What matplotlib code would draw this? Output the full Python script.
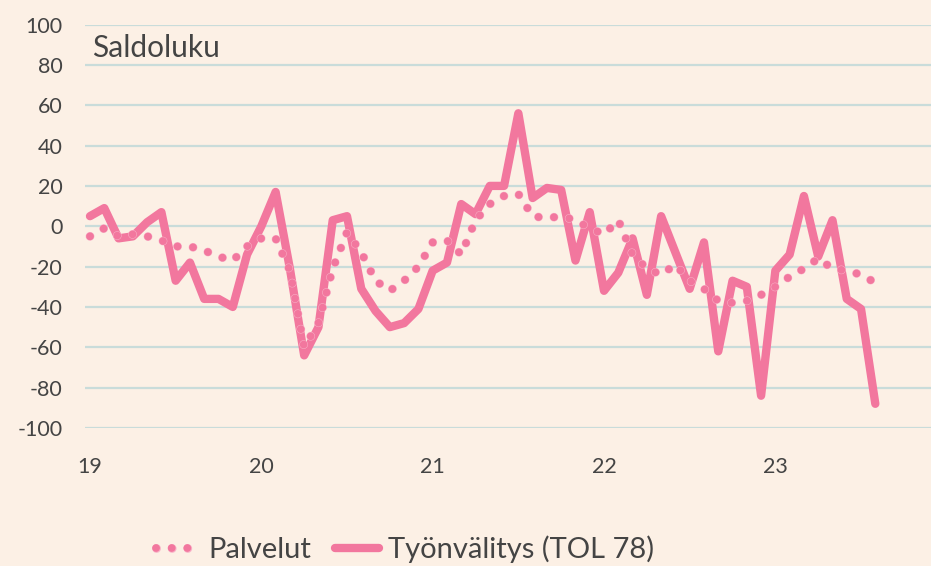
import numpy as np
import matplotlib.pyplot as plt
import matplotlib.patheffects as pe

# kuukausittaiset saldoluvut, tammikuu 2019 - elokuu 2023
palvelut = [-5, -1, -5, -4, -5, -7, -10, -10, -12, -15, -17, -10,
            -6, -6, -22, -60, -48, -21, -3, -13, -27, -32, -27, -20,
            -8, -7, -14, 3, 11, 15, 16, 5, 4, 5, 3, -1,
            -4, 3, -14, -21, -24, -19, -27, -31, -37, -38, -37, -34,
            -30, -25, -21, -16, -21, -22, -24, -28]
tyonvalitys = [5, 9, -6, -5, 2, 7, -27, -18, -36, -36, -40, -14,
               0, 17, -21, -64, -50, 3, 5, -31, -42, -50, -48, -41,
               -22, -18, 11, 6, 20, 20, 56, 14, 19, 18, -17, 7,
               -32, -23, -6, -34, 5, -13, -31, -8, -62, -27, -30, -84,
               -22, -14, 15, -15, 3, -36, -41, -88]
year_labels = ["19", "20", "21", "22", "23"]

months = np.arange(len(tyonvalitys))

bg = "#FCF0E5"
pink = "#F2779E"
txt = "#444444"

plt.rcParams['font.family'] = ['Lato', 'DejaVu Sans']
plt.rcParams['axes.unicode_minus'] = False

fig = plt.figure(figsize=(9.31, 5.66), dpi=100, facecolor=bg)
ax = fig.add_axes([0.0913, 0.2438, 0.9087, 0.7129], facecolor=bg)

ax.plot(months, tyonvalitys, color=pink, lw=6, solid_joinstyle='round',
        solid_capstyle='round', label="Työnvälitys (TOL 78)", zorder=3)
ax.plot(months, palvelut, color=pink, lw=5.6, linestyle=(0, (0.01, 2.0)),
        dash_capstyle='round', label="Palvelut", zorder=4,
        path_effects=[pe.Stroke(linewidth=6.3, foreground="#F9B3C8"), pe.Normal()])

ax.set_ylim(-100, 100)
ax.set_xlim(-0.35, 58.9)
ax.set_yticks(np.arange(-100, 101, 20))
ax.set_xticks(np.arange(0, 60, 12))
ax.set_xticklabels(year_labels)
ax.grid(axis='y', color="#C9DCDA", lw=1.6)
ax.set_axisbelow(True)
for s in ax.spines.values():
    s.set_visible(False)
ax.tick_params(axis='both', length=0, labelsize=15.5, colors=txt)
ax.tick_params(axis='y', pad=16)
ax.tick_params(axis='x', pad=21)

fig.text(92 / 931, 1 - 57 / 566, "Saldoluku", fontsize=21.5, color=txt, va='baseline')

h, l = ax.get_legend_handles_labels()
fig.legend(h[::-1], l[::-1], loc='center', bbox_to_anchor=(0.435, 1 - 549 / 566),
           ncol=2, frameon=False, fontsize=21, labelcolor=txt,
           handlelength=1.5, handletextpad=0.3, columnspacing=0.8)

fig.savefig("out.png", dpi=100, facecolor=bg)
